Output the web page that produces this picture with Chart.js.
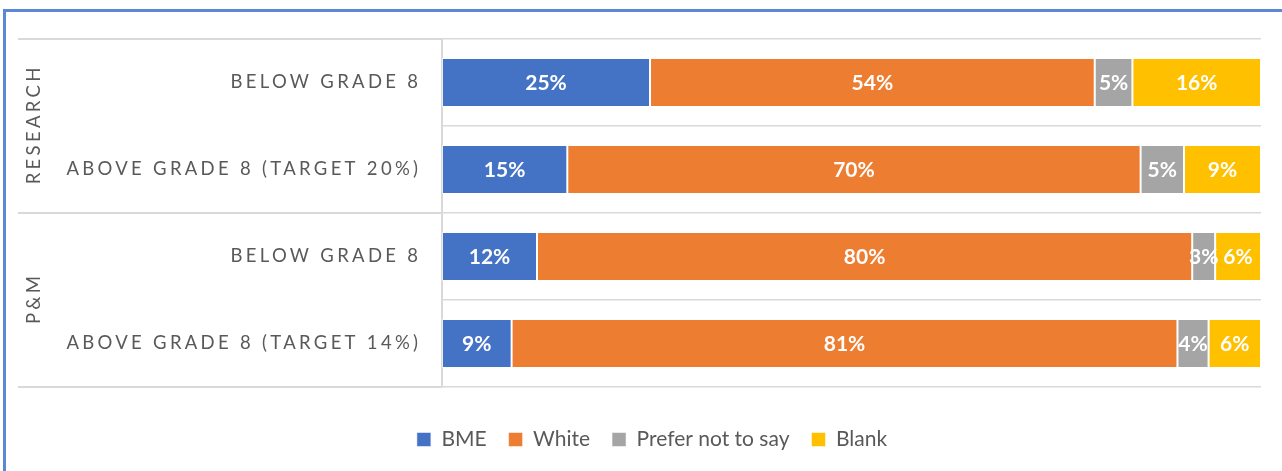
<!DOCTYPE html>
<html>
<head>
<meta charset="utf-8">
<script src="https://cdn.jsdelivr.net/npm/chart.js@4.4.1/dist/chart.umd.min.js"></script>
<style>
  html, body { margin: 0; padding: 0; background: #fff; }
  #wrap { position: relative; width: 1282px; height: 471px; overflow: hidden; }
  #frame { position: absolute; left: 3px; top: 9px; right: -10px; bottom: -10px;
           border-left: 3px solid #5b88d6; border-top: 3px solid #5b88d6; }
  canvas { position: absolute; left: 0; top: 0; }
</style>
</head>
<body>
<div id="wrap">
  <div id="frame"></div>
  <canvas id="chart" width="1282" height="471"></canvas>
</div>
<script>
// rows, top to bottom
const categories = ['BELOW GRADE 8', 'ABOVE GRADE 8 (TARGET 20%)', 'BELOW GRADE 8', 'ABOVE GRADE 8 (TARGET 14%)'];
const groups = ['RESEARCH', 'P&M'];
const groupSizes = [2, 2];

const seriesNames = ['BME', 'White', 'Prefer not to say', 'Blank'];
const seriesColors = ['#4472C4', '#ED7D31', '#A5A5A5', '#FFC000'];
const bme       = [25.4, 15.3, 11.6, 8.5];
const white     = [54.3, 70.0, 80.0, 81.3];
const preferNot = [4.6, 5.3, 2.8, 3.8];
const blank     = [15.7, 9.4, 5.6, 6.4];

const FONT = 'Lato, "Open Sans", sans-serif';
const TEXT = '#595959';
const GRID = '#d9d9d9';

// white % labels in the middle of each segment
const barLabels = {
  id: 'barLabels',
  afterDatasetsDraw(chart) {
    const ctx = chart.ctx;
    ctx.save();
    ctx.font = 'bold 21px ' + FONT;
    ctx.fillStyle = '#fff';
    ctx.textAlign = 'center';
    ctx.textBaseline = 'middle';
    chart.data.datasets.forEach((ds, d) => {
      chart.getDatasetMeta(d).data.forEach((bar, i) => {
        ctx.fillText(Math.round(ds.data[i]) + '%', (bar.x + bar.base) / 2, bar.y + 1);
      });
    });
    ctx.restore();
  }
};

// category + group labels on the left, with the group divider lines
const sideLabels = {
  id: 'sideLabels',
  afterDraw(chart) {
    const {ctx, chartArea, scales: {y}} = chart;
    ctx.save();
    ctx.strokeStyle = GRID;
    ctx.lineWidth = 2;
    let start = 0;
    const bounds = [y.getPixelForValue(-0.5)];
    groupSizes.forEach(n => { start += n; bounds.push(y.getPixelForValue(start - 0.5)); });
    bounds.forEach(py => {
      ctx.beginPath();
      ctx.moveTo(18, py);
      ctx.lineTo(chartArea.left, py);
      ctx.stroke();
    });

    const sp = 3.3;
    ctx.fillStyle = TEXT;
    ctx.font = '18.5px ' + FONT;
    ctx.letterSpacing = sp + 'px';
    ctx.textAlign = 'right';
    ctx.textBaseline = 'middle';
    categories.forEach((c, i) => {
      ctx.fillText(c, chartArea.left - 24 + sp, y.getPixelForValue(i));
    });

    ctx.textAlign = 'center';
    groups.forEach((g, k) => {
      const cy = (bounds[k] + bounds[k + 1]) / 2;
      ctx.save();
      ctx.translate(34, cy);
      ctx.rotate(-Math.PI / 2);
      ctx.fillText(g, sp / 2, 0);
      ctx.restore();
    });
    ctx.restore();
  }
};

const values = [bme, white, preferNot, blank];

new Chart(document.getElementById('chart'), {
  type: 'bar',
  data: {
    labels: categories,
    datasets: seriesNames.map((name, k) => ({
      label: name,
      data: values[k],
      backgroundColor: seriesColors[k],
      borderColor: 'rgba(255,255,255,0.5)',
      borderWidth: 1,
      borderSkipped: false,
      barPercentage: 0.563,
      categoryPercentage: 1
    }))
  },
  options: {
    indexAxis: 'y',
    responsive: false,
    devicePixelRatio: 1,
    animation: false,
    layout: { padding: { left: 43, right: 21, top: 39, bottom: 11 } },
    scales: {
      x: { stacked: true, min: 0, max: 100, display: false },
      y: {
        stacked: true,
        afterFit: s => { s.width = 399; },
        ticks: { display: false },
        grid: { offset: true, color: GRID, lineWidth: 1.5, drawTicks: false },
        border: { display: true, color: GRID, width: 2 }
      }
    },
    plugins: {
      legend: {
        position: 'bottom',
        title: { display: true, text: ' ', font: { size: 10 }, padding: { top: 4, bottom: 4 } },
        labels: {
          boxWidth: 14, boxHeight: 14, padding: 22,
          color: TEXT, font: { family: FONT, size: 21 }
        }
      },
      tooltip: { enabled: false }
    }
  },
  plugins: [barLabels, sideLabels]
});
</script>
</body>
</html>
